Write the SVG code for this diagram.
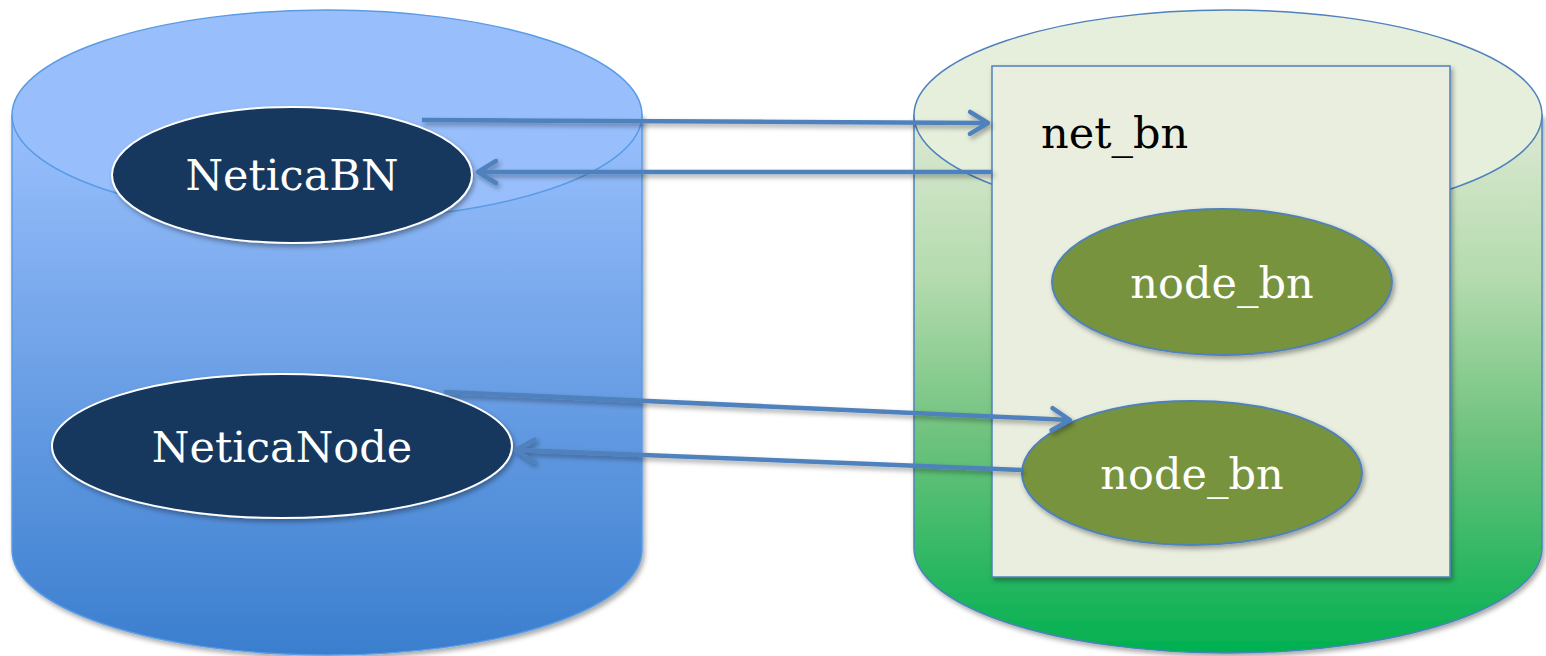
<svg xmlns="http://www.w3.org/2000/svg" width="1546" height="656" viewBox="0 0 1546 656">
<style>
.lbl{font-family:"DejaVu Serif","Liberation Serif",serif;font-size:43px;text-anchor:middle;fill:#ffffff}
.dark{fill:#17375E;stroke:#ffffff;stroke-width:2}
.green{fill:#77933C;stroke:#4F81BD;stroke-width:2}
.conn{stroke:#4F81BD;stroke-width:4.5;fill:none}
</style>
<defs>
<linearGradient id="gBlue" x1="0" y1="115" x2="0" y2="655" gradientUnits="userSpaceOnUse">
<stop offset="0" stop-color="#9AC0FD"/>
<stop offset="1" stop-color="#3A7ECE"/>
</linearGradient>
<linearGradient id="gGreen" x1="0" y1="115" x2="0" y2="655" gradientUnits="userSpaceOnUse">
<stop offset="0" stop-color="#DDE9D3"/>
<stop offset="0.3" stop-color="#B4DBAE"/>
<stop offset="0.6" stop-color="#6DC27D"/>
<stop offset="1" stop-color="#00B050"/>
</linearGradient>
<filter id="sh" x="-10%" y="-10%" width="130%" height="130%">
<feDropShadow dx="2" dy="3" stdDeviation="2.5" flood-color="#000" flood-opacity="0.35"/>
</filter>
<marker id="chev" markerUnits="userSpaceOnUse" viewBox="0 0 24 28" markerWidth="24" markerHeight="28" refX="21" refY="14" orient="auto" overflow="visible">
<path d="M3,3 L21,14 L3,25" fill="none" stroke="#4F81BD" stroke-width="4.5" stroke-linecap="round" stroke-linejoin="round"/>
</marker>
</defs>
<g id="cylinder-left">
<path d="M12,115 L12,550 A315,105 0 0 0 642,550 L642,115 Z" fill="url(#gBlue)" stroke="#5A9BE6" stroke-width="1.5" filter="url(#sh)"/>
<ellipse cx="327" cy="115" rx="315" ry="105" fill="#98BFFC" stroke="#5A9BE6" stroke-width="1.5"/>
</g>
<g id="cylinder-right">
<path d="M914,115 L914,548 A314,105 0 0 0 1542,548 L1542,115 Z" fill="url(#gGreen)" stroke="#4F81BD" stroke-width="1.5" filter="url(#sh)"/>
<ellipse cx="1228" cy="115" rx="314" ry="105" fill="#E6EEDC" stroke="#4F81BD" stroke-width="1.5"/>
</g>
<g id="net_bn">
<rect x="992" y="66" width="458" height="511" fill="#EAEEDF" stroke="#4F81BD" stroke-width="1.5" filter="url(#sh)"/>
<text x="1041" y="148" style="font-family:'DejaVu Serif','Liberation Serif',serif;font-size:43px;fill:#000">net_bn</text>
</g>
<g id="NeticaBN">
<ellipse class="dark" cx="292" cy="175" rx="180" ry="68" filter="url(#sh)"/>
<text class="lbl" x="292" y="190">NeticaBN</text>
</g>
<g id="NeticaNode">
<ellipse class="dark" cx="282" cy="446" rx="230" ry="72" filter="url(#sh)"/>
<text class="lbl" x="282" y="462">NeticaNode</text>
</g>
<g id="node_bn_1">
<ellipse class="green" cx="1222" cy="282" rx="170" ry="73" filter="url(#sh)"/>
<text class="lbl" x="1222" y="298">node_bn</text>
</g>
<g id="node_bn_2">
<ellipse class="green" cx="1192" cy="473" rx="170" ry="72" filter="url(#sh)"/>
<text class="lbl" x="1192" y="489">node_bn</text>
</g>
<g id="connectors" filter="url(#sh)">
<line class="conn" x1="422" y1="120" x2="988" y2="123" marker-end="url(#chev)"/>
<line class="conn" x1="992" y1="172" x2="478" y2="172" marker-end="url(#chev)"/>
<line class="conn" x1="444" y1="392" x2="1070" y2="420" marker-end="url(#chev)"/>
<line class="conn" x1="1022" y1="470" x2="516" y2="450" marker-end="url(#chev)"/>
</g>
</svg>
